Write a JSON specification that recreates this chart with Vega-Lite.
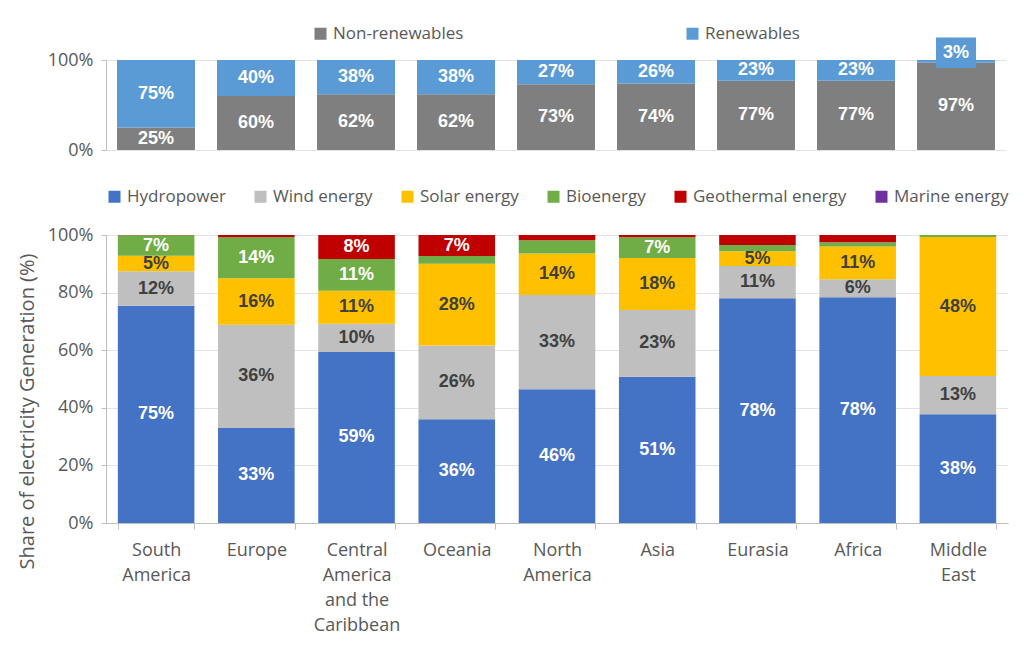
{
  "$schema": "https://vega.github.io/schema/vega-lite/v6.json",
  "background": "white",
  "padding": {"left": 17, "top": 25, "right": 5, "bottom": 5},
  "spacing": 29,
  "resolve": {"scale": {"color": "independent", "x": "independent", "y": "independent"}, "legend": {"color": "independent"}, "axis": {"x": "independent", "y": "independent"}},
  "config": {
    "font": "Open Sans",
    "view": {"stroke": null},
    "axis": {"labelColor": "#595959", "labelFontSize": 18, "titleColor": "#595959", "domainColor": "#BFBFBF", "tickColor": "#BFBFBF", "gridColor": "#E3E3E3", "labelFont": "Open Sans", "titleFont": "Open Sans", "titleFontWeight": "normal"},
    "legend": {"labelColor": "#595959", "labelFontSize": 17, "labelFont": "Open Sans", "labelLimit": 0, "symbolType": "square", "symbolSize": 144, "symbolStrokeWidth": 0, "labelOffset": 4, "layout": {"top": {"anchor": "middle"}}}
  },
  "vconcat": [
    {
      "width": 900,
      "height": 90,
      "data": {"values": [
        {"region": "South America", "type": "Non-renewables", "value": 0.25},
        {"region": "South America", "type": "Renewables", "value": 0.75},
        {"region": "Europe", "type": "Non-renewables", "value": 0.60},
        {"region": "Europe", "type": "Renewables", "value": 0.40},
        {"region": "Central America and the Caribbean", "type": "Non-renewables", "value": 0.62},
        {"region": "Central America and the Caribbean", "type": "Renewables", "value": 0.38},
        {"region": "Oceania", "type": "Non-renewables", "value": 0.62},
        {"region": "Oceania", "type": "Renewables", "value": 0.38},
        {"region": "North America", "type": "Non-renewables", "value": 0.73},
        {"region": "North America", "type": "Renewables", "value": 0.27},
        {"region": "Asia", "type": "Non-renewables", "value": 0.74},
        {"region": "Asia", "type": "Renewables", "value": 0.26},
        {"region": "Eurasia", "type": "Non-renewables", "value": 0.77},
        {"region": "Eurasia", "type": "Renewables", "value": 0.23},
        {"region": "Africa", "type": "Non-renewables", "value": 0.77},
        {"region": "Africa", "type": "Renewables", "value": 0.23},
        {"region": "Middle East", "type": "Non-renewables", "value": 0.97},
        {"region": "Middle East", "type": "Renewables", "value": 0.03}
      ]},
      "layer": [
        {
          "mark": {"type": "bar"},
          "encoding": {
            "x": {"field": "region", "type": "nominal", "sort": null, "axis": null, "scale": {"paddingInner": 0.22, "paddingOuter": 0.11}},
            "y": {"field": "value", "type": "quantitative", "stack": "zero", "scale": {"domain": [0, 1]},
                  "axis": {"values": [0, 1], "format": ".0%", "title": null, "grid": true, "tickSize": 5, "labelPadding": 8}},
            "color": {"field": "type", "type": "nominal",
                      "scale": {"domain": ["Non-renewables", "Renewables"], "range": ["#7F7F7F", "#5B9BD5"]},
                      "legend": {"orient": "top", "title": null, "direction": "horizontal", "columnPadding": 220, "offset": 18}},
            "order": {"field": "type", "type": "ordinal"}
          }
        },
        {
          "mark": {"type": "text", "fontWeight": "bold", "fontSize": 18, "color": "white", "font": "Liberation Sans"},
          "encoding": {
            "x": {"field": "region", "type": "nominal", "sort": null},
            "y": {"field": "value", "type": "quantitative", "stack": "zero", "bandPosition": 0.5},
            "detail": {"field": "type"},
            "order": {"field": "type", "type": "ordinal"},
            "text": {"condition": {"test": "datum.value < 0.05", "value": ""}, "field": "value", "type": "quantitative", "format": ".0%"}
          }
        },
        {
          "transform": [{"filter": "datum.region === 'Middle East' && datum.type === 'Renewables'"}],
          "mark": {"type": "bar", "width": 40, "color": "#5B9BD5"},
          "encoding": {
            "x": {"field": "region", "type": "nominal", "sort": null},
            "y": {"datum": 0.91},
            "y2": {"datum": 1.25}
          }
        },
        {
          "transform": [{"filter": "datum.region === 'Middle East' && datum.type === 'Renewables'"}],
          "mark": {"type": "text", "fontWeight": "bold", "fontSize": 18, "color": "white", "font": "Liberation Sans"},
          "encoding": {
            "x": {"field": "region", "type": "nominal", "sort": null},
            "y": {"datum": 1.08},
            "text": {"field": "value", "type": "quantitative", "format": ".0%"}
          }
        }
      ]
    },
    {
      "width": 902,
      "height": 288,
      "data": {"values": [
        {"region": "South America", "source": "Hydropower", "value": 0.754},
        {"region": "South America", "source": "Wind energy", "value": 0.120},
        {"region": "South America", "source": "Solar energy", "value": 0.054},
        {"region": "South America", "source": "Bioenergy", "value": 0.071},
        {"region": "South America", "source": "Geothermal energy", "value": 0.001},
        {"region": "Europe", "source": "Hydropower", "value": 0.330},
        {"region": "Europe", "source": "Wind energy", "value": 0.358},
        {"region": "Europe", "source": "Solar energy", "value": 0.162},
        {"region": "Europe", "source": "Bioenergy", "value": 0.142},
        {"region": "Europe", "source": "Geothermal energy", "value": 0.008},
        {"region": "Central America and the Caribbean", "source": "Hydropower", "value": 0.594},
        {"region": "Central America and the Caribbean", "source": "Wind energy", "value": 0.098},
        {"region": "Central America and the Caribbean", "source": "Solar energy", "value": 0.114},
        {"region": "Central America and the Caribbean", "source": "Bioenergy", "value": 0.111},
        {"region": "Central America and the Caribbean", "source": "Geothermal energy", "value": 0.083},
        {"region": "Oceania", "source": "Hydropower", "value": 0.360},
        {"region": "Oceania", "source": "Wind energy", "value": 0.256},
        {"region": "Oceania", "source": "Solar energy", "value": 0.284},
        {"region": "Oceania", "source": "Bioenergy", "value": 0.027},
        {"region": "Oceania", "source": "Geothermal energy", "value": 0.073},
        {"region": "North America", "source": "Hydropower", "value": 0.464},
        {"region": "North America", "source": "Wind energy", "value": 0.328},
        {"region": "North America", "source": "Solar energy", "value": 0.144},
        {"region": "North America", "source": "Bioenergy", "value": 0.046},
        {"region": "North America", "source": "Geothermal energy", "value": 0.018},
        {"region": "Asia", "source": "Hydropower", "value": 0.508},
        {"region": "Asia", "source": "Wind energy", "value": 0.232},
        {"region": "Asia", "source": "Solar energy", "value": 0.180},
        {"region": "Asia", "source": "Bioenergy", "value": 0.072},
        {"region": "Asia", "source": "Geothermal energy", "value": 0.008},
        {"region": "Eurasia", "source": "Hydropower", "value": 0.780},
        {"region": "Eurasia", "source": "Wind energy", "value": 0.112},
        {"region": "Eurasia", "source": "Solar energy", "value": 0.052},
        {"region": "Eurasia", "source": "Bioenergy", "value": 0.021},
        {"region": "Eurasia", "source": "Geothermal energy", "value": 0.035},
        {"region": "Africa", "source": "Hydropower", "value": 0.784},
        {"region": "Africa", "source": "Wind energy", "value": 0.062},
        {"region": "Africa", "source": "Solar energy", "value": 0.114},
        {"region": "Africa", "source": "Bioenergy", "value": 0.015},
        {"region": "Africa", "source": "Geothermal energy", "value": 0.025},
        {"region": "Middle East", "source": "Hydropower", "value": 0.378},
        {"region": "Middle East", "source": "Wind energy", "value": 0.132},
        {"region": "Middle East", "source": "Solar energy", "value": 0.483},
        {"region": "Middle East", "source": "Bioenergy", "value": 0.007}
      ]},
      "transform": [
        {"calculate": "indexof(['Hydropower','Wind energy','Solar energy','Bioenergy','Geothermal energy','Marine energy'], datum.source)", "as": "ord"}
      ],
      "layer": [
        {
          "mark": {"type": "bar"},
          "encoding": {
            "x": {"field": "region", "type": "nominal", "sort": null,
                  "scale": {"paddingInner": 0.236, "paddingOuter": 0.118},
                  "axis": {"title": null, "labelAngle": 0, "labelLineHeight": 25, "labelPadding": 12, "tickBand": "extent", "tickSize": 6, "labelBaseline": "top",
                           "labelExpr": "isValid(datum.value) ? (datum.value === 'Central America and the Caribbean' ? ['Central', 'America', 'and the', 'Caribbean'] : split(datum.value, ' ')) : ''"}},
            "y": {"field": "value", "type": "quantitative", "stack": "zero", "scale": {"domain": [0, 1]},
                  "axis": {"values": [0, 0.2, 0.4, 0.6, 0.8, 1], "format": ".0%", "title": "Share of electricity Generation (%)", "titleFontSize": 20, "titlePadding": 10, "titleY": 176, "grid": true, "tickSize": 5, "labelPadding": 8}},
            "color": {"field": "source", "type": "nominal",
                      "scale": {"domain": ["Hydropower", "Wind energy", "Solar energy", "Bioenergy", "Geothermal energy", "Marine energy"],
                                "range": ["#4472C4", "#BFBFBF", "#FFC000", "#70AD47", "#C00000", "#7030A0"]},
                      "legend": {"orient": "top", "title": null, "direction": "horizontal", "columnPadding": 26, "offset": 30}},
            "order": {"field": "ord", "type": "quantitative"}
          }
        },
        {
          "mark": {"type": "text", "fontWeight": "bold", "fontSize": 18, "font": "Liberation Sans"},
          "encoding": {
            "x": {"field": "region", "type": "nominal", "sort": null},
            "y": {"field": "value", "type": "quantitative", "stack": "zero", "bandPosition": 0.5},
            "detail": {"field": "source"},
            "order": {"field": "ord", "type": "quantitative"},
            "color": {"condition": {"test": "datum.source === 'Wind energy' || datum.source === 'Solar energy'", "value": "#404040"}, "value": "white"},
            "text": {"condition": {"test": "datum.value < 0.0495", "value": ""}, "field": "value", "type": "quantitative", "format": ".0%"}
          }
        }
      ]
    }
  ]
}
